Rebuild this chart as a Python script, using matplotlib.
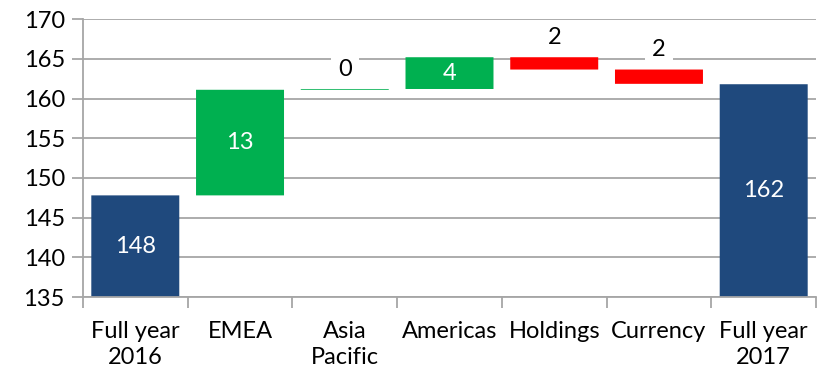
import matplotlib.pyplot as plt
import numpy as np

# data
categorias = ["Full year\n2016", "EMEA", "Asia\nPacific", "Americas", "Holdings", "Currency", "Full year\n2017"]
inicio = 147.8
variacoes = [13.3, 0.1, 4.0, -1.55, -1.8]
final = 161.8

AZUL = "#1F497D"
VERDE = "#00B050"
VERMELHO = "#FF0000"
CINZA = "#A6A6A6"

plt.rcParams["font.family"] = ["Lato", "DejaVu Sans"]

fig = plt.figure(figsize=(8.21, 3.75), dpi=100)
ax = fig.add_axes([0.101, 0.208, 0.893, 0.741])

base_eixo = 135
x = np.arange(len(categorias))
largura = 0.84

# calcula as bases e alturas do waterfall
bases = [base_eixo]
alturas = [inicio - base_eixo]
cores = [AZUL]
rotulos = [f"{inicio:.0f}"]
acumulado = inicio
for v in variacoes:
    if v >= 0:
        bases.append(acumulado)
        cores.append(VERDE)
    else:
        bases.append(acumulado + v)
        cores.append(VERMELHO)
    alturas.append(abs(v))
    rotulos.append(f"{abs(v):.0f}")
    acumulado += v
bases.append(base_eixo)
alturas.append(final - base_eixo)
cores.append(AZUL)
rotulos.append(f"{final:.0f}")

barras = ax.bar(x, alturas, bottom=bases, width=largura, color=cores,
                edgecolor="none", linewidth=0, zorder=2)
for b in barras:
    b.set_snap(False)

for xi, b, h, r in zip(x, bases, alturas, rotulos):
    if h > 3:
        ax.text(xi, b + h / 2, r, ha="center", va="center", color="white",
                fontsize=17, zorder=4)
    else:
        ax.text(xi, b + h + 2.5, r, ha="center", va="center", color="black",
                fontsize=17, zorder=4,
                bbox=dict(boxstyle="square,pad=0.3", fc="white", ec="none"))

ax.set_ylim(135, 170)
ax.set_yticks(np.arange(135, 171, 5))
ax.set_xlim(-0.5, len(categorias) - 0.5)
ax.yaxis.grid(True, color=CINZA, linewidth=1.3, zorder=0)
ax.set_axisbelow(True)

# ticks do eixo x nas divisas entre categorias
ax.set_xticks(x)
ax.set_xticklabels(categorias, fontsize=17, linespacing=1.3)
ax.set_xticks(np.arange(-0.5, len(categorias)), minor=True)
ax.tick_params(axis="x", which="major", length=0, pad=17)
ax.tick_params(axis="x", which="minor", length=8, width=1.3, color=CINZA, direction="out")
ax.tick_params(axis="y", length=8, width=1.3, color=CINZA, labelsize=17, pad=5)

for lado in ["top", "right"]:
    ax.spines[lado].set_visible(False)
for lado in ["left", "bottom"]:
    ax.spines[lado].set_color(CINZA)
    ax.spines[lado].set_linewidth(1.3)

fig.savefig("out.png", dpi=100)
